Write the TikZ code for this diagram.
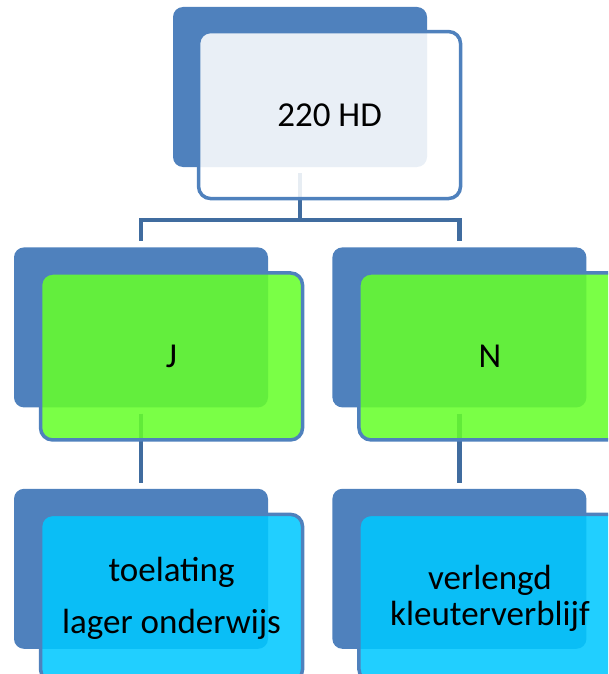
\documentclass[tikz,border=0pt]{standalone}
\usepackage{fontspec}
\setmainfont{Carlito}
\usetikzlibrary{positioning}
\definecolor{backblue}{HTML}{4F81BD}
\definecolor{lineblue}{HTML}{406C9F}
\definecolor{jagreen}{HTML}{66FF2A}
\definecolor{neecyan}{HTML}{00C8FF}

\begin{document}
\begin{tikzpicture}[node distance=80pt,
    back/.style={rectangle,rounded corners=10pt,fill=backblue,minimum width=254pt,minimum height=160pt,inner sep=0pt},
    front/.style={rectangle,rounded corners=12pt,draw=backblue,line width=3.5pt,fill opacity=.87,text opacity=1,
                  minimum width=262pt,minimum height=167pt,inner sep=0pt,align=center,anchor=north west,
                  font=\fontsize{35}{40}\selectfont},
    conn/.style={draw=lineblue,line width=4.5pt,shorten <=6pt,shorten >=6pt}]

  \path[use as bounding box,clip] (0,0) rectangle (608pt,-674pt);

  \node[back] (topb) at (300pt,-87pt) {};
  \node[back] (jb) [below=80pt of topb,xshift=-159pt] {};
  \node[back] (nb) [right=64pt of jb] {};
  \node[back] (lob) [below=81pt of jb] {};
  \node[back] (kvb) [right=64pt of lob] {};

  \draw[conn] (topb.south) -- ++(0,-53pt) -| (jb.north);
  \draw[conn] (topb.south) -- ++(0,-53pt) -| (nb.north);
  \draw[conn] (jb) -- (lob);
  \draw[conn] (nb) -- (kvb);

  \node[front,fill=white,fill opacity=.88] (top) at ([shift={(24pt,-23pt)}]topb.north west) {220 HD};
  \node[front,fill=jagreen] (j) at ([shift={(25pt,-24pt)}]jb.north west) {J};
  \node[front,fill=jagreen] (n) at ([shift={(25pt,-24pt)}]nb.north west) {N};
  \node[front,fill=neecyan] (lo) at ([shift={(25pt,-24pt)}]lob.north west) {toelating\\[12pt]lager onderwijs};
  \node[front,fill=neecyan] (kv) at ([shift={(25pt,-24pt)}]kvb.north west) {verlengd\\[-4pt]kleuterverblijf};
\end{tikzpicture}
\end{document}
